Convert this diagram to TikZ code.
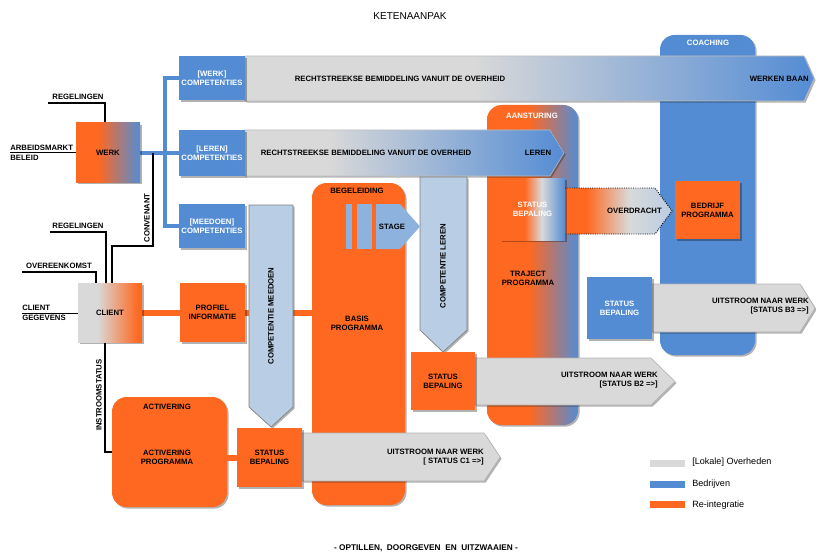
\documentclass[tikz,border=0pt]{standalone}
\usepackage{fontspec}
\setmainfont{Liberation Sans}
\usetikzlibrary{shadows,calc}
\definecolor{orng}{RGB}{255,104,32}
\definecolor{blu}{RGB}{84,140,212}
\definecolor{gry}{RGB}{217,217,217}
\definecolor{lblu}{RGB}{185,205,228}
\definecolor{stg}{RGB}{142,178,222}
\pgfdeclarehorizontalshading{werkshade}{100bp}{color(0bp)=(orng); color(25bp)=(orng); color(42bp)=(orng); color(75bp)=(blu); color(100bp)=(blu)}
\pgfdeclarehorizontalshading{aanshade}{100bp}{color(0bp)=(orng); color(25bp)=(orng); color(48bp)=(orng); color(75bp)=(blu); color(100bp)=(blu)}
\pgfdeclarehorizontalshading{clientshade}{100bp}{color(0bp)=(gry); color(25bp)=(gry); color(40bp)=(gry); color(72bp)=(orng); color(100bp)=(orng)}
\pgfdeclarehorizontalshading{sbshade}{100bp}{color(0bp)=(orng); color(25bp)=(orng); color(44bp)=(orng); color(57bp)=(gry); color(75bp)=(blu); color(100bp)=(blu)}
\pgfdeclarehorizontalshading{ovshade}{100bp}{color(0bp)=(orng); color(25bp)=(orng); color(35bp)=(orng); color(55bp)=(gry); color(75bp)=(lblu); color(100bp)=(lblu)}
\pgfdeclarehorizontalshading{a1shade}{100bp}{color(0bp)=(gry); color(25bp)=(gry); color(45bp)=(gry); color(75bp)=(blu); color(100bp)=(blu)}
\pgfdeclarehorizontalshading{a2shade}{100bp}{color(0bp)=(gry); color(25bp)=(gry); color(38bp)=(gry); color(75bp)=(blu); color(100bp)=(blu)}
\pgfdeclarelayer{cols}
\pgfdeclarelayer{lines}
\pgfsetlayers{cols,lines,main}
\tikzset{
  txt/.style={font=\fontsize{5.8}{6.6}\selectfont\bfseries, align=center, inner sep=0pt},
  wtxt/.style={txt, text=white},
  wh/.style 2 args={minimum width=#1*0.75pt, minimum height=#2*0.75pt, inner sep=0pt},
  shd/.style={drop shadow={shadow xshift=1.2pt, shadow yshift=-1.2pt, opacity=0.3, fill=black}},
  obox/.style={fill=orng, shd},
  bbox/.style={fill=blu, shd},
  col/.style={rounded corners=11pt, shd},
  garrow/.style={fill=gry, draw=gray!60, line width=0.4pt, shd},
  larrow/.style={fill=lblu, draw=gray, line width=0.5pt, shd},
  thinl/.style={draw=black, line width=1pt},
  bus/.style={draw=blu, line width=3pt},
  obus/.style={draw=orng, line width=4.5pt},
  legbar/.style={wh={35}{7}},
  legtxt/.style={font=\fontsize{6.8}{8}\selectfont, anchor=west, inner sep=0pt},
}
\begin{document}
\begin{tikzpicture}[x=0.75pt,y=-0.75pt]
\path[use as bounding box] (0,0) rectangle (816,556);

% ---------- title ----------
\node[font=\fontsize{7.5}{9}\selectfont, inner sep=0pt] (title) at (410,16) {KETENAANPAK};
\node[font=\fontsize{6.2}{7}\selectfont\bfseries, inner sep=0pt] (motto) at (426,548) {- OPTILLEN,\ \ DOORGEVEN\ \ EN\ \ UITZWAAIEN -};

% ---------- columns ----------
\begin{pgfonlayer}{cols}
\node[col, fill=blu, wh={95}{320}] (coach) at (707.5,195) {};
\node[col, shading=aanshade, wh={91}{320}] (aanst) at (532.5,265) {};
\node[col, fill=orng, wh={93}{322}] (begel) at (358.5,344) {};
\node[col, fill=orng, wh={115}{110}] (activ) at (169.5,452) {};
\end{pgfonlayer}
\node[wtxt] (tcoach) at (708,43) {COACHING};
\node[wtxt] (taanst) at (532,116) {AANSTURING};
\node[txt] (tbegel) at (357,191) {BEGELEIDING};
\node[txt] (tactiv) at (167,407) {ACTIVERING};
\node[txt] (ttraj) at (528,278) {TRAJECT\\PROGRAMMA};
\node[txt] (tbasis) at (357,323) {BASIS\\PROGRAMMA};
\node[txt] (tactp) at (167,457) {ACTIVERING\\PROGRAMMA};

% ---------- arrows ----------
\path[shading=a1shade, draw=gray!50, line width=0.4pt, shd] (245,56) -- (804,56) -- (814,78.5) -- (804,101) -- (245,101) -- cycle;
\node[txt] (a1t) at (400,79) {RECHTSTREEKSE BEMIDDELING VANUIT DE OVERHEID};
\node[txt, anchor=east] (a1e) at (809,79) {WERKEN BAAN};

\path[shading=a2shade, draw=gray!50, line width=0.4pt, shd] (245,130) -- (550,130) -- (564,153) -- (550,176) -- (245,176) -- cycle;
\node[txt] (a2t) at (366,153) {RECHTSTREEKSE BEMIDDELING VANUIT DE OVERHEID};
\node[txt] (a2e) at (538,153) {LEREN};

\path[shading=ovshade] (565,188) -- (655,188) -- (672,211) -- (655,234) -- (565,234) -- cycle;
\draw[densely dotted, line width=0.7pt] (565,188) -- (655,188) -- (672,211) -- (655,234) -- (565,234);
\node[txt, anchor=east] (ovt) at (662,211) {OVERDRACHT};

\path[garrow] (475,358) -- (651,358) -- (675,381.5) -- (651,405) -- (475,405) -- cycle;
\node[txt, anchor=east, align=right] (ub2) at (658,380) {UITSTROOM NAAR WERK\\{[STATUS B2 =>]}};

\path[garrow] (652,284) -- (800,284) -- (815,308) -- (800,332) -- (652,332) -- cycle;
\node[txt, anchor=east, align=right] (ub3) at (809,306) {UITSTROOM NAAR WERK\\{[STATUS B3 =>]}};

\path[garrow] (302,433) -- (484,433) -- (500,457) -- (484,481) -- (302,481) -- cycle;
\node[txt, anchor=east, align=right] (uc1) at (484,457) {UITSTROOM NAAR WERK\\{[ STATUS C1 =>]}};

% competentie arrows
\path[larrow] (249,205) -- (293,205) -- (293,407) -- (271,427) -- (249,407) -- cycle;
\node[txt, rotate=90] (cmt) at (271,316) {COMPETENTIE MEEDOEN};
\path[larrow] (420,177) -- (467,177) -- (467,330) -- (443,352) -- (420,330) -- cycle;
\node[txt, rotate=90] (clt) at (443,266) {COMPETENTIE LEREN};

% stage
\fill[stg] (346,204) rectangle (352,249);
\fill[stg] (357,204) rectangle (372,249);
\path[fill=stg] (376,204) -- (400,204) -- (420,226.5) -- (400,249) -- (376,249) -- cycle;
\node[txt] (stage) at (392,226.5) {STAGE};

% ---------- boxes ----------
\node[shading=werkshade, shd, wh={64}{59}, txt] (werk) at (108,152.5) {WERK};
\node[bbox, wh={66}{44}, wtxt] (cw) at (212,78) {[WERK]\\COMPETENTIES};
\node[bbox, wh={66}{46}, wtxt] (cl) at (212,153) {[LEREN]\\COMPETENTIES};
\node[bbox, wh={66}{44}, wtxt] (cm) at (212,226) {[MEEDOEN]\\COMPETENTIES};
\node[shading=clientshade, shd, wh={64}{59}, txt] (client) at (110,312.5) {CLIENT};
\node[obox, wh={65}{59}, txt] (profiel) at (212.5,312.5) {PROFIEL\\INFORMATIE};
\node[obox, wh={64}{58}, txt] (sb1) at (443,381) {STATUS\\BEPALING};
\node[shading=sbshade, shd, wh={65}{62}, wtxt] (sb2) at (532.5,209.5) {STATUS\\BEPALING};
\node[obox, wh={65}{58}, txt] (bedrijf) at (707.5,210) {BEDRIJF\\PROGRAMMA};
\node[bbox, wh={65}{62}, wtxt] (sb3) at (619.5,308) {STATUS\\BEPALING};
\node[obox, wh={65}{59}, txt] (sb4) at (269.5,457.5) {STATUS\\BEPALING};

% ---------- side labels ----------
\node[txt] (reg1) at (78,97) {REGELINGEN};
\node[txt, align=left, anchor=west] (arb) at (10,153) {ARBEIDSMARKT\\[1.2pt]BELEID};
\node[txt] (reg2) at (78,226) {REGELINGEN};
\node[txt] (overk) at (59,266) {OVEREENKOMST};
\node[txt, align=left, anchor=west] (cgeg) at (22,313) {CLIENT\\[1.2pt]GEGEVENS};
\node[txt, rotate=90] (conv) at (147,218) {CONVENANT};
\node[txt, rotate=90] (instr) at (99,395) {INSTROOMSTATUS};

% ---------- connectors ----------
\coordinate (busx) at (165,0);
\coordinate (r1) at (48,103);
\coordinate (r1x) at (105,0);
\coordinate (r2) at (50,232);
\coordinate (r2x) at (106,0);
\coordinate (ov) at (22,272);
\coordinate (ovx) at (96,0);
\coordinate (cg) at (22,313.5);
\coordinate (ab) at (10,152.5);
\coordinate (cv1) at (153,152.5);
\coordinate (cv2) at (112,246);
\coordinate (in1) at (105,452);
\begin{pgfonlayer}{lines}
\draw[bus] (werk.east) -- (werk.east -| busx);
\draw[bus] (cw.west) -- (cw.west -| busx) -- (cm.west -| busx) -- (cm.west);
\draw[bus] (cl.west) -- (cl.west -| busx);
\draw[thinl] (cv1) |- (cv2) -- (cv2 |- client.north);
\draw[thinl] (r1) -- (r1 -| r1x) -- (r1x |- werk.north);
\draw[thinl] (ab) -- (ab -| werk.west);
\draw[thinl] (r2) -- (r2 -| r2x) -- (r2x |- client.north);
\draw[thinl] (ov) -- (ov -| ovx) -- (ovx |- client.north);
\draw[thinl] (cg) -- (cg -| client.west);
\draw[thinl] (in1 |- client.south) -- (in1) -- (in1 -| activ.west);
\draw[obus] (client.east) -- (profiel.west);
\draw[obus] (profiel.east) -- (profiel.east -| begel.west);
\draw[obus] (activ.east |- sb4.west) -- (sb4.west);
\end{pgfonlayer}

% ---------- legend ----------
\node[legbar, fill=gry] (lg1) at (667.5,463.5) {};
\node[legtxt] (lt1) at (692,462) {[Lokale] Overheden};
\node[legbar, fill=blu] (lg2) at (667.5,484.5) {};
\node[legtxt] (lt2) at (692,484) {Bedrijven};
\node[legbar, fill=orng] (lg3) at (667.5,504.5) {};
\node[legtxt] (lt3) at (692,505) {Re-integratie};
\end{tikzpicture}
\end{document}
